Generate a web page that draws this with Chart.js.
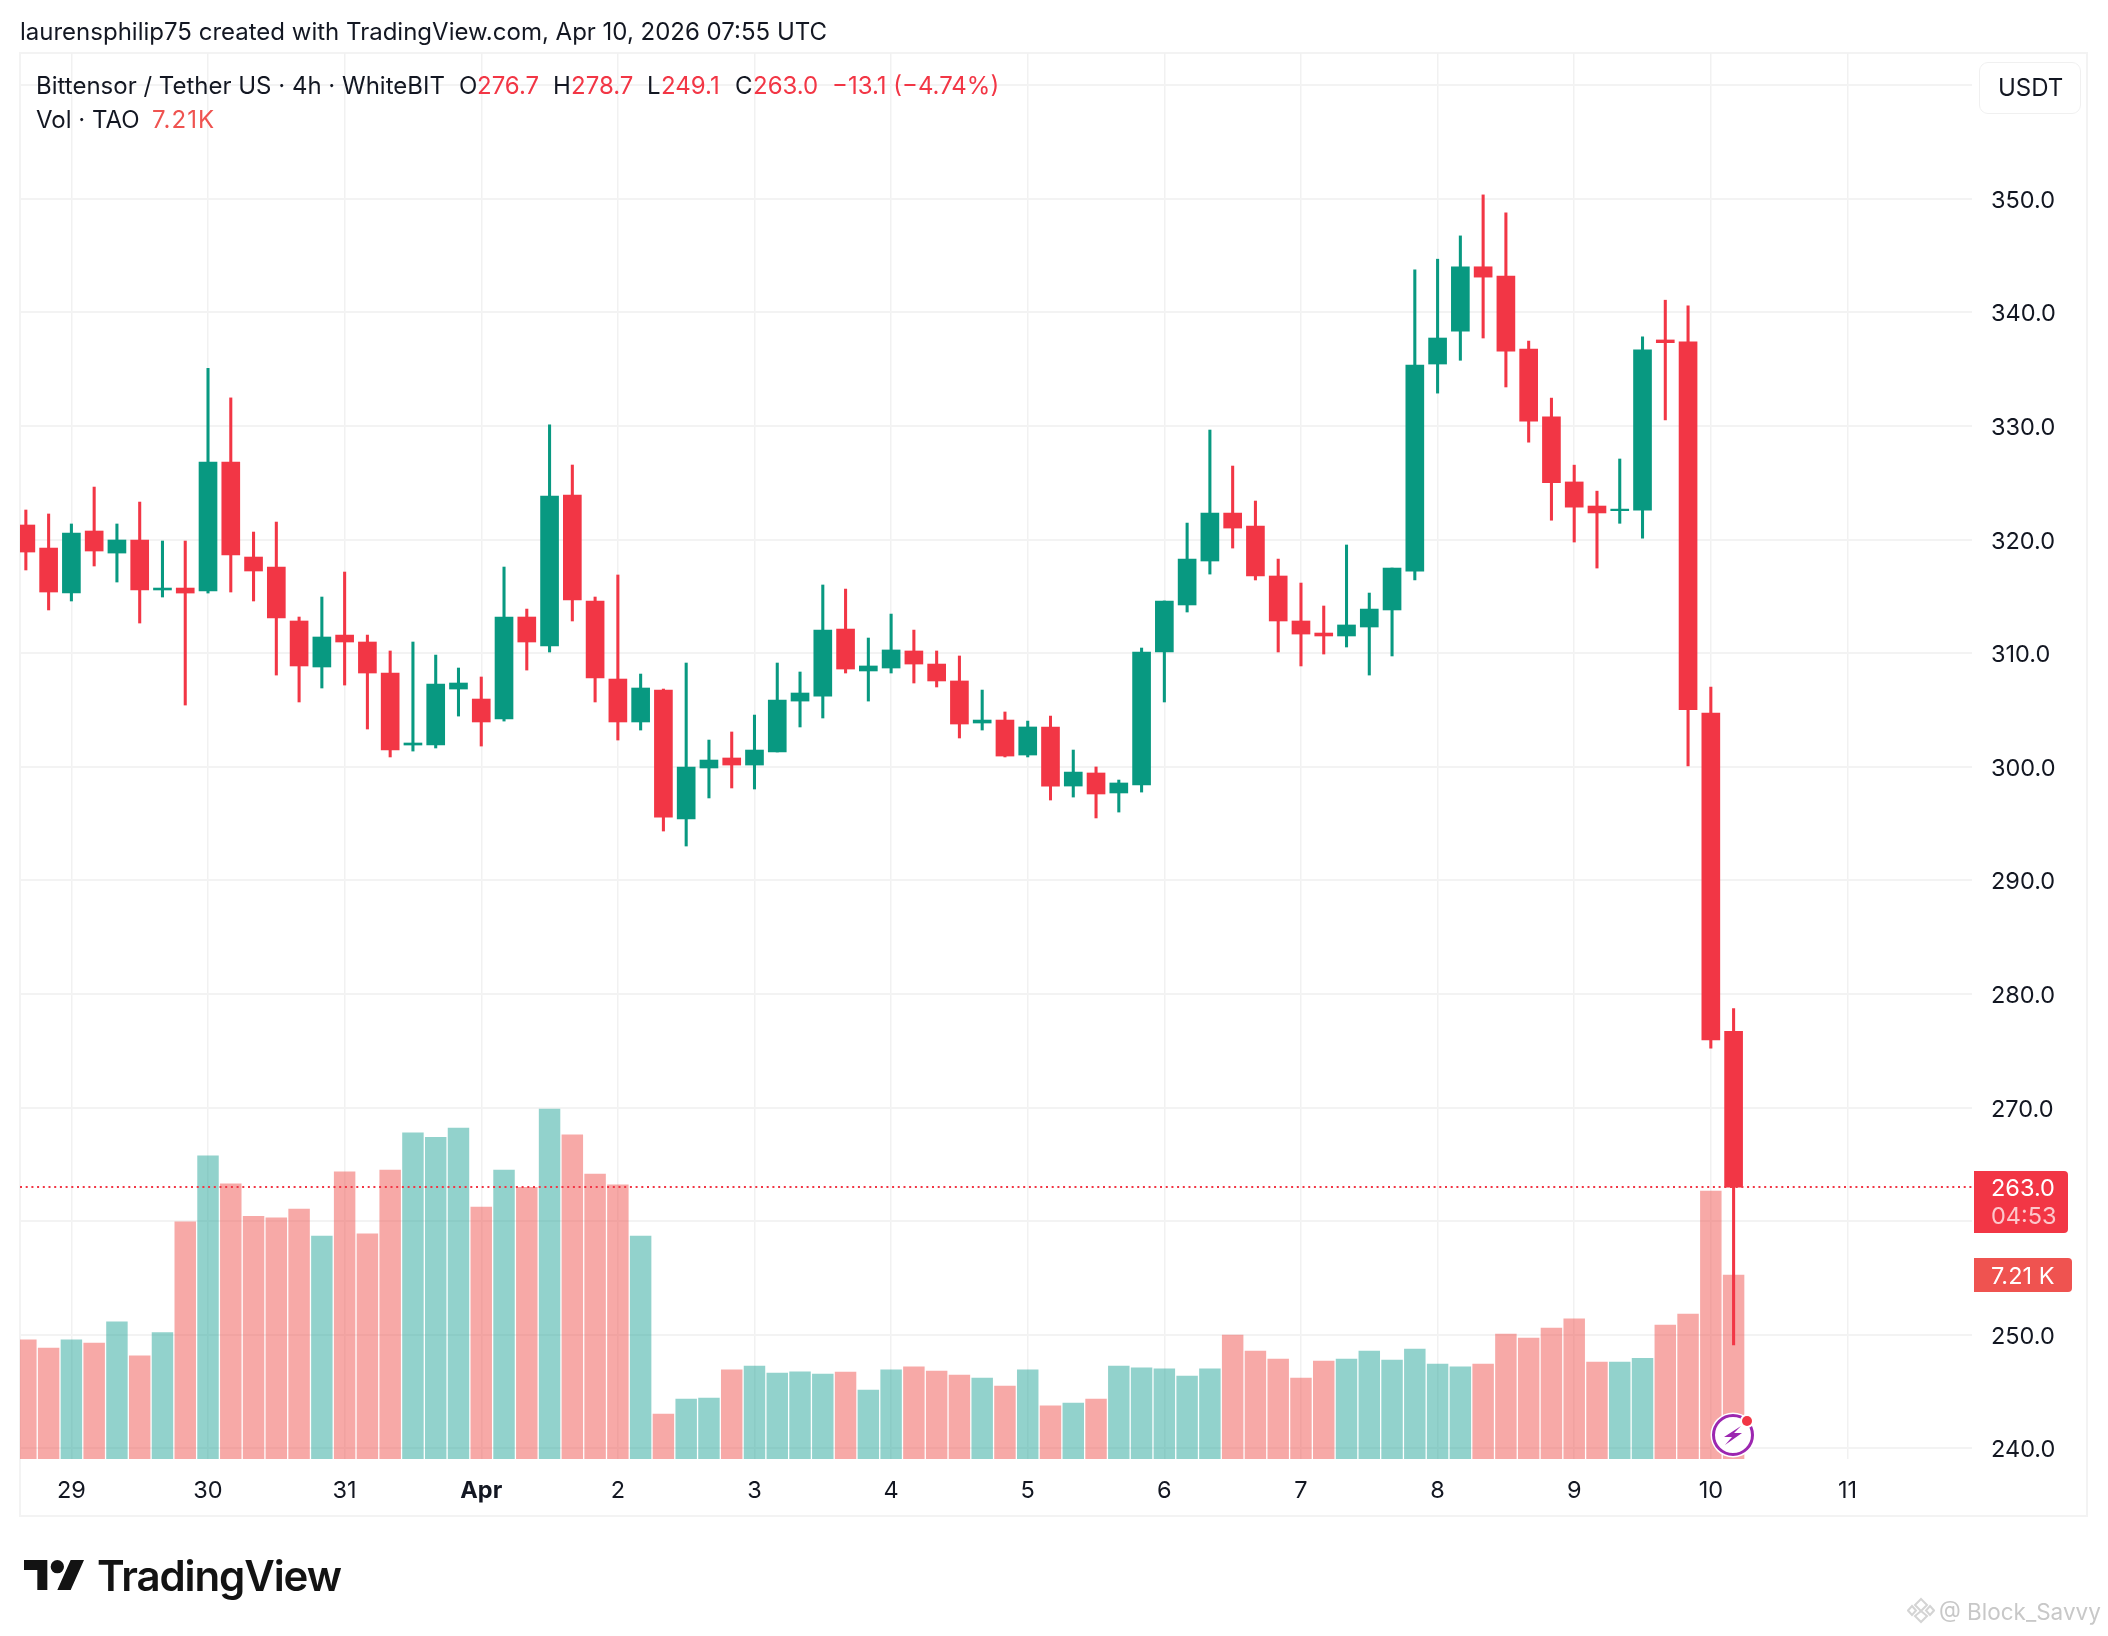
<!DOCTYPE html>
<html>
<head>
<meta charset="utf-8">
<title>Bittensor / Tether US 4h</title>
<script src="https://cdn.jsdelivr.net/npm/chart.js@4/dist/chart.umd.min.js"></script>
<style>
  html, body { margin: 0; padding: 0; background: #fff; }
  #page { position: relative; width: 2108px; height: 1636px; overflow: hidden; font-family: Inter, sans-serif; color: #131722; }
  canvas { position: absolute; left: 0; top: 0; }
  .t { position: absolute; white-space: nowrap; line-height: 30px; font-size: 24px; }
  .r { color: #f23645; }
  .v { color: #ef5350; }
  svg { position: absolute; }
</style>
</head>
<body>
<div id="page">
  <canvas id="chart" width="2108" height="1636"></canvas>

  <div class="t" style="left:20px;top:17px;">laurensphilip75 created with TradingView.com, Apr 10, 2026 07:55 UTC</div>

  <div class="t" style="left:36px;top:71px;">Bittensor / Tether US · 4h · WhiteBIT</div>
  <div class="t" style="left:459px;top:71px;">O</div><div class="t r" style="left:477px;top:71px;">276.7</div>
  <div class="t" style="left:553px;top:71px;">H</div><div class="t r" style="left:571px;top:71px;">278.7</div>
  <div class="t" style="left:647px;top:71px;">L</div><div class="t r" style="left:661px;top:71px;">249.1</div>
  <div class="t" style="left:735px;top:71px;">C</div><div class="t r" style="left:753px;top:71px;">263.0</div>
  <div class="t r" style="left:832px;top:71px;">−13.1 (−4.74%)</div>
  <div class="t" style="left:36px;top:105px;">Vol · TAO</div><div class="t v" style="left:152px;top:105px;letter-spacing:1px;">7.21K</div>

  <div style="position:absolute;left:1979px;top:62px;width:100px;height:50px;border:1px solid #f0f0f0;border-radius:9px;"></div>
  <div class="t" style="left:1998px;top:73px;">USDT</div>

  <svg style="left:1709px;top:1411px;" width="48" height="48" viewBox="0 0 48 48">
    <circle cx="24" cy="24" r="22.5" fill="#fff"/>
    <circle cx="24" cy="24" r="19.5" fill="none" stroke="#9c27b0" stroke-width="3"/>
    <path d="M32 15 L15 26 L23 26 L16 34 L33 22 L25 22 Z" fill="#9c27b0"/>
    <circle cx="38" cy="10" r="7" fill="#fff"/>
    <circle cx="38" cy="10" r="5" fill="#f23645"/>
  </svg>

  <svg style="left:24px;top:1560px;" width="60" height="30" viewBox="0 0 36 18" preserveAspectRatio="none">
    <path d="M14 0H0v6h8v12h6V0Zm14 18h-8L28 0h8l-8 18ZM20 8a4 4 0 1 0 0-8 4 4 0 0 0 0 8Z" fill="#131313"/>
  </svg>
  <div class="t" style="left:97px;top:1551px;font-size:42px;font-weight:600;line-height:50px;letter-spacing:-1.1px;color:#131313;">TradingView</div>

  <svg style="left:1907px;top:1597px;" width="28" height="27" viewBox="0 0 28 27">
    <g fill="none" stroke="#d4d4d4" stroke-width="2">
      <path d="M14 2 L20 8 L14 14 L8 8 Z"/>
      <path d="M5 9 L9 13.5 L5 18 L1 13.5 Z"/>
      <path d="M23 9 L27 13.5 L23 18 L19 13.5 Z"/>
      <path d="M14 14 L20 19 L14 25 L8 19 Z"/>
    </g>
  </svg>
  <div class="t" style="left:1939px;top:1597px;font-size:22.5px;color:#c8c8c8;">@ Block_Savvy</div>
</div>

<script>
const opens = [321.28,319.25,315.29,320.75,318.81,319.96,315.56,315.73,315.47,326.82,318.46,317.58,312.83,308.78,311.59,310.98,308.25,301.91,301.91,306.84,305.96,304.2,313.18,310.63,323.92,314.59,307.72,303.94,306.75,295.4,
  299.89,300.77,300.15,301.3,305.78,306.22,312.12,308.43,308.69,310.19,309.04,307.55,303.85,304.11,301.03,303.5,298.3,299.45,297.69,298.39,310.1,314.24,318.11,322.33,321.19,316.79,312.83,311.77,311.51,312.3,
  313.8,317.22,335.45,338.35,344.01,343.2,336.76,330.8,325.07,322.95,322.54,322.58,337.57,337.4,304.72,276.7];
const highs = [322.6,322.25,321.37,324.62,321.37,323.3,319.87,319.87,335.07,332.47,320.66,321.54,313.18,314.94,317.14,311.59,310.19,310.98,309.83,308.69,307.9,317.58,313.88,330.1,326.56,314.94,316.88,308.16,306.84,309.13,
  302.35,303.06,304.55,309.13,308.34,316,315.64,311.33,313.44,312.03,310.19,309.75,306.75,304.82,304.02,304.46,301.47,299.98,298.83,310.45,314.59,321.45,329.64,326.47,323.39,318.28,316.17,314.15,319.52,315.29,
  317.49,343.74,344.68,346.73,350.34,348.76,337.47,332.45,326.55,324.26,327.09,337.84,341.07,340.57,307.01,278.7];
const lows = [317.32,313.8,314.59,317.67,316.26,312.65,314.94,305.43,315.29,315.38,314.59,308.07,305.7,306.93,307.19,303.32,300.86,301.38,301.65,304.46,301.82,304.02,308.51,310.1,312.83,305.7,302.35,303.23,294.34,293.02,
  297.25,298.13,298.04,301.3,303.5,304.29,308.25,305.78,308.25,307.37,307.02,302.53,303.23,300.86,300.86,297.07,297.33,295.49,296.01,297.77,305.7,313.62,316.96,319.25,316.44,310.1,308.87,309.92,310.54,308.07,
  309.75,316.44,332.89,335.78,337.74,333.43,328.57,321.7,319.78,317.49,321.43,320.12,330.53,300.07,275.22,249.1];
const closes = [318.9,315.38,320.57,318.99,319.96,315.56,315.73,315.29,326.82,318.64,317.23,313.09,308.87,311.42,310.98,308.25,301.47,302.09,307.28,307.37,303.94,313.18,310.98,323.83,314.68,307.81,303.94,306.93,295.57,299.98,
  300.59,300.15,301.47,305.87,306.49,312.03,308.6,308.87,310.28,309.04,307.55,303.76,304.11,300.94,303.5,298.3,299.53,297.6,298.57,310.1,314.59,318.28,322.33,321.01,316.79,312.83,311.68,311.51,312.48,313.88,
  317.49,335.35,337.74,344.01,343.1,336.59,330.43,325.0,322.85,322.34,322.68,336.69,337.33,305.02,275.95,263.0];
const volumes = [4.67,4.35,4.67,4.54,5.38,4.04,4.95,9.29,11.88,10.78,9.51,9.45,9.79,8.74,11.25,8.82,11.32,12.78,12.61,12.97,9.87,11.32,10.65,13.71,12.7,11.17,10.74,8.74,1.76,2.35,
  2.39,3.49,3.64,3.37,3.42,3.33,3.41,2.70,3.49,3.61,3.45,3.29,3.17,2.86,3.49,2.08,2.19,2.35,3.64,3.57,3.53,3.25,3.53,4.86,4.23,3.92,3.17,3.84,3.92,4.23,
  3.88,4.31,3.72,3.61,3.72,4.90,4.74,5.13,5.49,3.80,3.80,3.95,5.25,5.68,10.50,7.21];
const dayTicks = [2,8,14,20,26,32,38,44,50,56,62,68,74,80];
const dayLabels = ['29','30','31','Apr','2','3','4','5','6','7','8','9','10','11'];
const hiddenPriceTicks = [260,360];
const lastPrice = 263.0;

const UP = '#089981', DOWN = '#f23645';
const VOL_UP = 'rgba(38,166,154,0.5)', VOL_DOWN = 'rgba(239,83,80,0.5)';
const font = 'Inter, sans-serif';
const xMin = -0.257, xMax = 85.47;

const candleColors = closes.map((c, i) => c >= opens[i] ? UP : DOWN);
const volColors = closes.map((c, i) => c >= opens[i] ? VOL_UP : VOL_DOWN);

// frame round the whole chart and the badges on the price axis
const extras = {
  id: 'extras',
  beforeDraw(chart) {
    const c = chart.ctx;
    c.save();
    c.strokeStyle = '#f3f3f3';
    c.lineWidth = 2;
    c.strokeRect(20, 53, 2067, 1463);
    c.restore();
  },
  afterDraw(chart) {
    const c = chart.ctx, y = chart.scales.y;
    const py = y.getPixelForValue(lastPrice);
    c.save();
    c.font = '23.5px ' + font;
    c.textBaseline = 'middle';
    c.textAlign = 'left';
    c.fillStyle = DOWN;
    c.beginPath(); c.roundRect(1974, py - 16, 94, 62, [0, 4, 4, 0]); c.fill();
    c.fillStyle = '#fff';
    c.fillText(lastPrice.toFixed(1), 1991, py + 2);
    c.fillStyle = 'rgba(255,255,255,0.72)';
    c.fillText('04:53', 1991, py + 30);
    c.fillStyle = '#ef5350';
    c.beginPath(); c.roundRect(1974, 1258, 98, 34, [0, 4, 4, 0]); c.fill();
    c.fillStyle = '#fff';
    c.fillText('7.21 K', 1991, 1277);
    c.restore();
  }
};

new Chart(document.getElementById('chart'), {
  type: 'bar',
  data: {
    datasets: [
      {
        label: 'Wick',
        data: closes.map((c, i) => ({ x: i, y: [lows[i], highs[i]] })),
        backgroundColor: candleColors,
        barThickness: 2.4,
        grouped: false,
        order: 1
      },
      {
        label: 'Body',
        data: closes.map((c, i) => ({ x: i, y: [opens[i], c] })),
        backgroundColor: candleColors,
        barThickness: 18,
        grouped: false,
        order: 0
      },
      {
        type: 'line',
        label: 'Last price',
        data: [{ x: xMin, y: lastPrice }, { x: xMax, y: lastPrice }],
        borderColor: DOWN,
        borderWidth: 2,
        borderDash: [2, 3.7],
        pointRadius: 0,
        order: 2
      },
      {
        label: 'Volume',
        data: volumes.map((v, i) => ({ x: i, y: v })),
        backgroundColor: volColors,
        barThickness: 20.8,
        grouped: false,
        yAxisID: 'vol',
        order: 3
      }
    ]
  },
  options: {
    responsive: false,
    devicePixelRatio: 1,
    animation: false,
    layout: { padding: { left: 20, top: 53, right: 21, bottom: 120 } },
    plugins: { legend: { display: false }, tooltip: { enabled: false } },
    scales: {
      x: {
        type: 'linear',
        min: xMin,
        max: xMax,
        offset: false,
        afterBuildTicks(s) { s.ticks = dayTicks.map(v => ({ value: v })); },
        afterFit(s) { s.height = 57; },
        grid: { offset: false, color: '#f1f1f1', lineWidth: 1.5, drawTicks: false },
        border: { display: false },
        ticks: {
          autoSkip: false,
          maxRotation: 0,
          padding: 18,
          color: '#131722',
          font: ctx => ({ family: font, size: 23.5, weight: ctx.tick && ctx.tick.value === 20 ? '700' : '400' }),
          callback: v => dayLabels[dayTicks.indexOf(v)]
        }
      },
      y: {
        position: 'right',
        min: 239.06,
        max: 362.83,
        afterBuildTicks(s) { s.ticks = []; for (let v = 240; v <= 360; v += 10) s.ticks.push({ value: v }); },
        afterFit(s) { s.width = 115; },
        grid: { color: '#f3f3f3', lineWidth: 2, drawTicks: false },
        border: { display: false },
        ticks: {
          padding: 19,
          labelOffset: 2,
          color: '#131722',
          font: { family: font, size: 23.5 },
          callback: v => hiddenPriceTicks.includes(v) ? '' : v.toFixed(1)
        }
      },
      vol: {
        display: false,
        position: 'left',
        min: 0,
        max: 55.1
      }
    }
  },
  plugins: [extras]
});
</script>
</body>
</html>
